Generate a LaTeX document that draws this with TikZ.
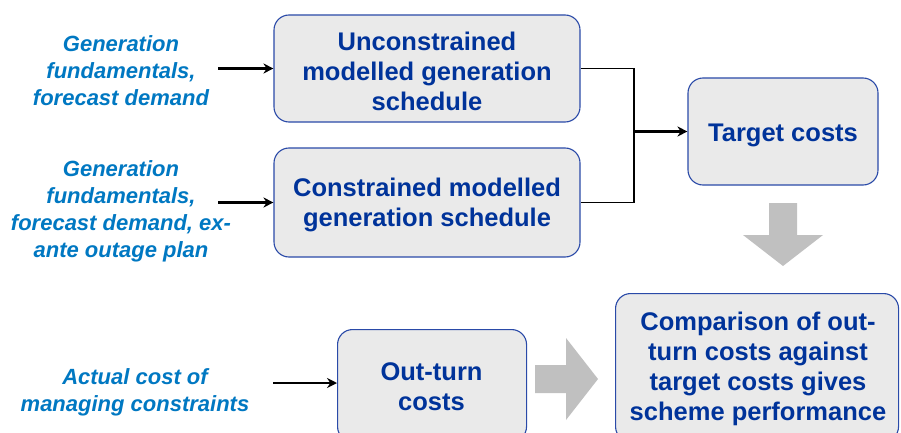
\documentclass[tikz,border=0pt]{standalone}
\usepackage{fontspec}
\setmainfont{Liberation Sans}
\usetikzlibrary{arrows.meta}
\definecolor{boxfill}{HTML}{EAEAEA}
\definecolor{boxedge}{HTML}{2A4AA8}
\definecolor{boxtext}{HTML}{00339A}
\definecolor{intext}{HTML}{0078C2}
\definecolor{bigarrow}{HTML}{C0C0C0}
\begin{document}
\begin{tikzpicture}[x=1pt,y=-1pt,
  box/.style={draw=boxedge,line width=1.1pt,fill=boxfill,rounded corners=15pt,
    align=center,text=boxtext,font=\bfseries\fontsize{25.5}{30}\selectfont,inner sep=0pt},
  boxtxt/.style={text=boxtext,font=\bfseries\fontsize{25.5}{30}\selectfont,align=center,inner sep=0pt},
  intxt/.style={align=center,text=intext,font=\bfseries\itshape\fontsize{22}{27}\selectfont,inner sep=0pt},
  inarrow/.style={line width=2.4pt,-{Stealth[length=10pt,width=10pt]}},
  joinline/.style={line width=1.3pt}]
\useasboundingbox (0,0) rectangle (901,433);
\clip (0,0) rectangle (901,433);
\fill[white] (0,0) rectangle (901,433);

\node[box,minimum width=306pt,minimum height=107pt] (b1) at (427,68.5) {};
\node[boxtxt] (b1t) at (427,71) {Unconstrained\\modelled generation\\schedule};
\node[box,minimum width=306pt,minimum height=109pt] (b2) at (427,202.5) {};
\node[boxtxt] (b2t) at (427,205) {Constrained modelled\\generation schedule};
\node[box,minimum width=190pt,minimum height=107pt] (tc) at (783,131.5) {};
\node[boxtxt] (tct) at (783,135) {Target costs};
\node[box,minimum width=283pt,minimum height=148pt,anchor=north west] (cmp) at (615,293) {};
\node[boxtxt] (cmpt) at (758,369)
  {Comparison of out-\\turn costs against\\target costs gives\\scheme performance};
\node[box,minimum width=189pt,minimum height=112pt,anchor=north west] (ot) at (337,329) {};
\node[boxtxt] (ott) at (431.5,387) {Out-turn\\costs};

\node[intxt] (i1) at (121,71) {Generation\\fundamentals,\\forecast demand};
\node[intxt] (i2) at (121,211) {Generation\\fundamentals,\\forecast demand, ex-\\ante outage plan};
\node[intxt] (i3) at (135,392) {Actual cost of\\managing constraints};

\coordinate (s1) at (218,68.5);
\coordinate (s2) at (218,202.5);
\coordinate (s3) at (273,383);
\coordinate (J) at (634,131.5);

\draw[inarrow] (s1) -- (b1.west);
\draw[inarrow] (s2) -- (b2.west);
\draw[inarrow] (s3) -- (s3 -| ot.west);
\draw[joinline] (b1.east) -| (J) |- (b2.east);
\draw[inarrow] (J) -- (tc.west);

\fill[bigarrow] (769,203) -- (797,203) -- (797,235) -- (823,235) -- (783,266)
  -- (743,235) -- (769,235) -- cycle;
\fill[bigarrow] (535,365) -- (566,365) -- (566,338) -- (598,379) -- (566,420)
  -- (566,393) -- (535,393) -- cycle;
\end{tikzpicture}
\end{document}
